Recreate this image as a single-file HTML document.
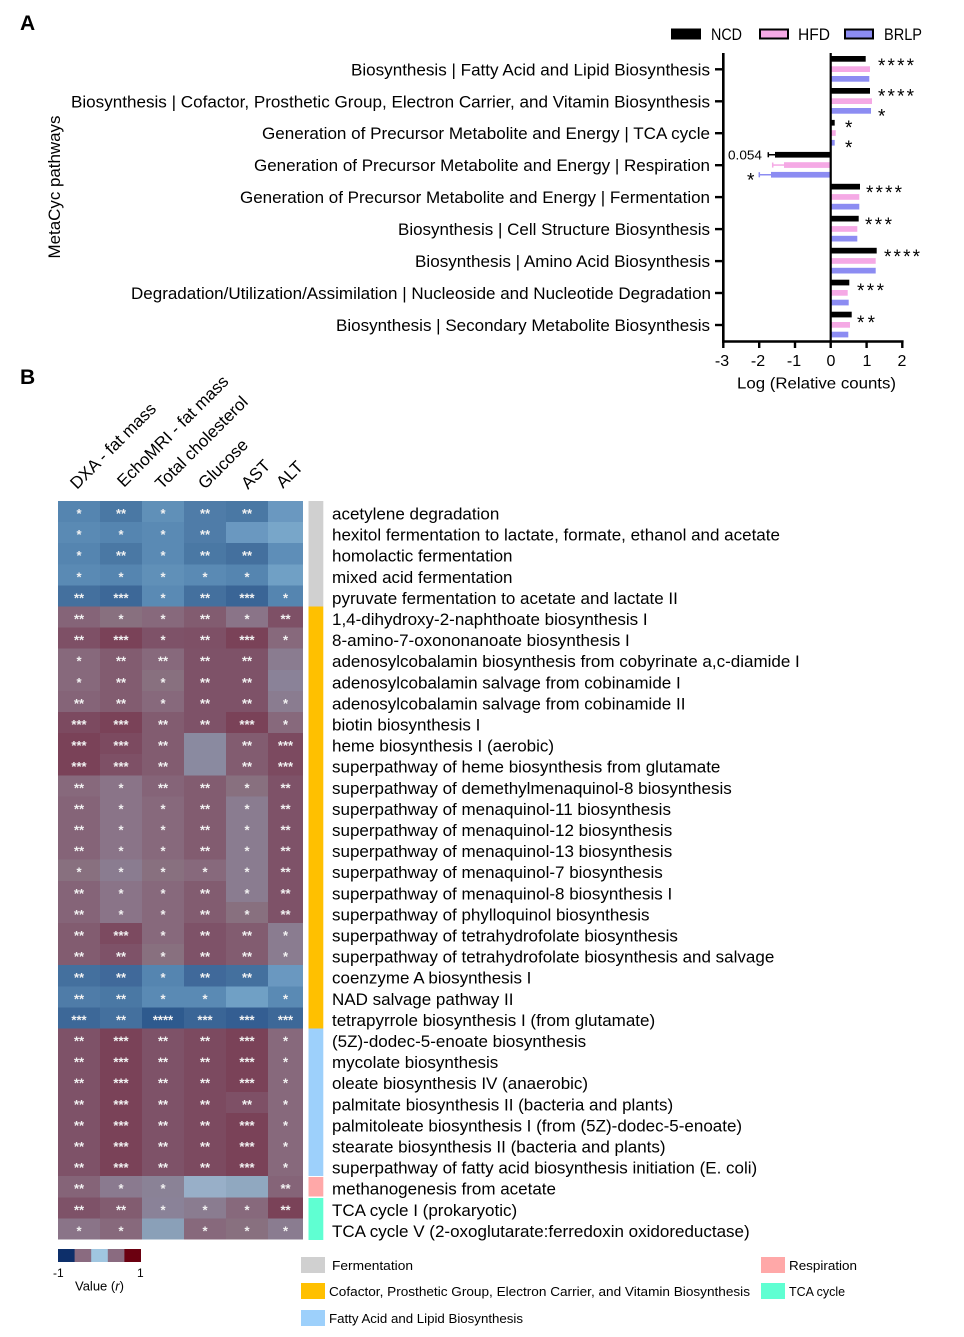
<!DOCTYPE html>
<html><head><meta charset="utf-8">
<style>
html,body{margin:0;padding:0;background:#fff;}
svg{display:block;}
text{font-family:"Liberation Sans",Arial,sans-serif;fill:#000;}
.s{font-size:13px;font-weight:bold;fill:#f2f2f2;text-anchor:middle;}
.l{font-size:17px;}
.h{font-size:17px;}
.al{font-size:17px;text-anchor:end;}
.st{font-size:19px;}
.tk{font-size:16px;text-anchor:middle;}
.lg{font-size:13px;}
</style></head>
<body>
<svg width="964" height="1337" viewBox="0 0 964 1337" xmlns="http://www.w3.org/2000/svg">
<rect x="0" y="0" width="964" height="1337" fill="#fff"/>

<!-- Panel A -->
<text x="20" y="30" style="font-size:21px;font-weight:bold">A</text>
<text x="60" y="187" class="l" text-anchor="middle" transform="rotate(-90 60 187)" textLength="143" lengthAdjust="spacingAndGlyphs">MetaCyc pathways</text>

<text class="al" x="710" y="75.3" textLength="359" lengthAdjust="spacingAndGlyphs">Biosynthesis | Fatty Acid and Lipid Biosynthesis</text>
<text class="al" x="710" y="107.3" textLength="639" lengthAdjust="spacingAndGlyphs">Biosynthesis | Cofactor, Prosthetic Group, Electron Carrier, and Vitamin Biosynthesis</text>
<text class="al" x="710" y="139.2" textLength="448" lengthAdjust="spacingAndGlyphs">Generation of Precursor Metabolite and Energy | TCA cycle</text>
<text class="al" x="710" y="171.2" textLength="456" lengthAdjust="spacingAndGlyphs">Generation of Precursor Metabolite and Energy | Respiration</text>
<text class="al" x="710" y="203.1" textLength="470" lengthAdjust="spacingAndGlyphs">Generation of Precursor Metabolite and Energy | Fermentation</text>
<text class="al" x="710" y="235.1" textLength="312" lengthAdjust="spacingAndGlyphs">Biosynthesis | Cell Structure Biosynthesis</text>
<text class="al" x="710" y="267.1" textLength="295" lengthAdjust="spacingAndGlyphs">Biosynthesis | Amino Acid Biosynthesis</text>
<text class="al" x="711" y="299" textLength="580" lengthAdjust="spacingAndGlyphs">Degradation/Utilization/Assimilation | Nucleoside and Nucleotide Degradation</text>
<text class="al" x="710" y="331" textLength="374" lengthAdjust="spacingAndGlyphs">Biosynthesis | Secondary Metabolite Biosynthesis</text>

<!-- legend -->
<rect x="672" y="29.5" width="28" height="9" fill="#000" stroke="#000" stroke-width="2"/>
<text x="711" y="40" class="l" textLength="31" lengthAdjust="spacingAndGlyphs">NCD</text>
<rect x="760" y="29.5" width="28" height="9" fill="#f5a9e5" stroke="#000" stroke-width="2"/>
<text x="798" y="40" class="l" textLength="32" lengthAdjust="spacingAndGlyphs">HFD</text>
<rect x="845" y="29.5" width="28" height="9" fill="#8c8cf2" stroke="#000" stroke-width="2"/>
<text x="884" y="40" class="l" textLength="38" lengthAdjust="spacingAndGlyphs">BRLP</text>

<!-- bars -->
<g>
<rect x="830.7" y="56" width="35" height="5.7" fill="#000"/>
<rect x="830.7" y="66.3" width="39.3" height="5.7" fill="#f5a9e5"/>
<rect x="830.7" y="76" width="38.6" height="5.7" fill="#8c8cf2"/>

<rect x="830.7" y="88" width="39.3" height="5.7" fill="#000"/>
<rect x="830.7" y="98.3" width="41.3" height="5.7" fill="#f5a9e5"/>
<rect x="830.7" y="108" width="40.3" height="5.7" fill="#8c8cf2"/>

<rect x="830.7" y="119.9" width="4" height="5.7" fill="#000"/>
<rect x="830.7" y="130.2" width="5" height="5.7" fill="#f5a9e5"/>
<rect x="830.7" y="139.9" width="4" height="5.7" fill="#8c8cf2"/>

<rect x="775" y="151.9" width="55.7" height="5.7" fill="#000"/>
<rect x="784" y="162.2" width="46.7" height="5.7" fill="#f5a9e5"/>
<rect x="771" y="171.9" width="59.7" height="5.7" fill="#8c8cf2"/>
<line x1="768.3" y1="154.75" x2="775" y2="154.75" stroke="#000" stroke-width="1.5"/>
<line x1="768.3" y1="152.2" x2="768.3" y2="157.3" stroke="#000" stroke-width="1.5"/>
<line x1="772.7" y1="165.05" x2="784" y2="165.05" stroke="#f5a9e5" stroke-width="1.5"/>
<line x1="772.7" y1="162.5" x2="772.7" y2="167.6" stroke="#f5a9e5" stroke-width="1.5"/>
<line x1="759.3" y1="174.75" x2="771" y2="174.75" stroke="#8c8cf2" stroke-width="1.5"/>
<line x1="759.3" y1="172.2" x2="759.3" y2="177.3" stroke="#8c8cf2" stroke-width="1.5"/>

<rect x="830.7" y="183.8" width="29.3" height="5.7" fill="#000"/>
<rect x="830.7" y="194.1" width="28.6" height="5.7" fill="#f5a9e5"/>
<rect x="830.7" y="203.8" width="28.6" height="5.7" fill="#8c8cf2"/>

<rect x="830.7" y="215.8" width="28" height="5.7" fill="#000"/>
<rect x="830.7" y="226.1" width="26.6" height="5.7" fill="#f5a9e5"/>
<rect x="830.7" y="235.8" width="26.6" height="5.7" fill="#8c8cf2"/>

<rect x="830.7" y="247.8" width="46" height="5.7" fill="#000"/>
<rect x="830.7" y="258.1" width="45" height="5.7" fill="#f5a9e5"/>
<rect x="830.7" y="267.8" width="45" height="5.7" fill="#8c8cf2"/>

<rect x="830.7" y="279.7" width="18.6" height="5.7" fill="#000"/>
<rect x="830.7" y="290" width="17" height="5.7" fill="#f5a9e5"/>
<rect x="830.7" y="299.7" width="18" height="5.7" fill="#8c8cf2"/>

<rect x="830.7" y="311.7" width="21" height="5.7" fill="#000"/>
<rect x="830.7" y="322" width="19.3" height="5.7" fill="#f5a9e5"/>
<rect x="830.7" y="331.7" width="17.6" height="5.7" fill="#8c8cf2"/>
</g>

<!-- significance -->
<text class="st" x="878" y="72" textLength="36" lengthAdjust="spacing">****</text>
<text class="st" x="878" y="102.5" textLength="36" lengthAdjust="spacing">****</text>
<text class="st" x="878" y="122.5">*</text>
<text class="st" x="845" y="134">*</text>
<text class="st" x="845" y="154">*</text>
<text x="728" y="159.5" style="font-size:13px" textLength="34" lengthAdjust="spacingAndGlyphs">0.054</text>
<text class="st" x="747" y="186.5">*</text>
<text class="st" x="866" y="199" textLength="36" lengthAdjust="spacing">****</text>
<text class="st" x="865" y="231" textLength="27" lengthAdjust="spacing">***</text>
<text class="st" x="884" y="263" textLength="36" lengthAdjust="spacing">****</text>
<text class="st" x="857" y="297" textLength="27" lengthAdjust="spacing">***</text>
<text class="st" x="857" y="329" textLength="18" lengthAdjust="spacing">**</text>

<!-- axes -->
<line x1="723.3" y1="53" x2="723.3" y2="342.7" stroke="#000" stroke-width="2.6"/>
<line x1="722" y1="341.5" x2="903.6" y2="341.5" stroke="#000" stroke-width="2.6"/>
<line x1="830.7" y1="53" x2="830.7" y2="341" stroke="#000" stroke-width="2.2"/>
<g stroke="#000" stroke-width="2.4">
<line x1="715" y1="69.3" x2="723" y2="69.3"/>
<line x1="715" y1="101.3" x2="723" y2="101.3"/>
<line x1="715" y1="133.2" x2="723" y2="133.2"/>
<line x1="715" y1="165.2" x2="723" y2="165.2"/>
<line x1="715" y1="197.1" x2="723" y2="197.1"/>
<line x1="715" y1="229.1" x2="723" y2="229.1"/>
<line x1="715" y1="261.1" x2="723" y2="261.1"/>
<line x1="715" y1="293" x2="723" y2="293"/>
<line x1="715" y1="325" x2="723" y2="325"/>
<line x1="723.3" y1="341" x2="723.3" y2="348"/>
<line x1="759.2" y1="341" x2="759.2" y2="348"/>
<line x1="795" y1="341" x2="795" y2="348"/>
<line x1="830.7" y1="341" x2="830.7" y2="348"/>
<line x1="866.6" y1="341" x2="866.6" y2="348"/>
<line x1="902.3" y1="341" x2="902.3" y2="348"/>
</g>
<text class="tk" x="722" y="366">-3</text>
<text class="tk" x="758" y="366">-2</text>
<text class="tk" x="794" y="366">-1</text>
<text class="tk" x="831" y="366">0</text>
<text class="tk" x="867" y="366">1</text>
<text class="tk" x="902" y="366">2</text>
<text x="737" y="388.5" class="tk" style="text-anchor:start" textLength="159" lengthAdjust="spacingAndGlyphs">Log (Relative counts)</text>

<!-- Panel B -->
<text x="20" y="384" style="font-size:21px;font-weight:bold">B</text>

<text class="h" x="77" y="490" transform="rotate(-45 77 490)">DXA - fat mass</text>
<text class="h" x="124" y="488" transform="rotate(-45 124 488)">EchoMRI - fat mass</text>
<text class="h" x="162" y="490" transform="rotate(-45 162 490)">Total cholesterol</text>
<text class="h" x="205" y="490" transform="rotate(-45 205 490)">Glucose</text>
<text class="h" x="248" y="490" transform="rotate(-45 248 490)">AST</text>
<text class="h" x="283" y="489" transform="rotate(-45 283 489)">ALT</text>

<!-- category bar -->
<rect x="308.5" y="501" width="14.8" height="105.5" fill="#d0d0d0"/>
<rect x="308.5" y="606.5" width="14.8" height="422" fill="#ffc000"/>
<rect x="308.5" y="1028.5" width="14.8" height="147.5" fill="#9dd0fb"/>
<rect x="308.5" y="1177" width="14.8" height="19.5" fill="#ffa8a8"/>
<rect x="308.5" y="1198" width="14.8" height="42" fill="#5fffd2"/>

<g shape-rendering="crispEdges">
<g transform="translate(0,501)">
<rect x="58" width="42.5" height="21.6" fill="#5585b0"/><rect x="100" width="42.5" height="21.6" fill="#4a78a4"/><rect x="142" width="42.5" height="21.6" fill="#6090b8"/><rect x="184" width="42.5" height="21.6" fill="#4f7ca8"/><rect x="226" width="42.5" height="21.6" fill="#4a78a4"/><rect x="268" width="35" height="21.6" fill="#6a98c0"/>
</g>
<g transform="translate(0,522.1)">
<rect x="58" width="42.5" height="21.6" fill="#5a8ab4"/><rect x="100" width="42.5" height="21.6" fill="#5585b0"/><rect x="142" width="42.5" height="21.6" fill="#5a8ab4"/><rect x="184" width="42.5" height="21.6" fill="#4f7ca8"/><rect x="226" width="42.5" height="21.6" fill="#6a98c0"/><rect x="268" width="35" height="21.6" fill="#78a6c9"/>
</g>
<g transform="translate(0,543.2)">
<rect x="58" width="42.5" height="21.6" fill="#5585b0"/><rect x="100" width="42.5" height="21.6" fill="#4a78a4"/><rect x="142" width="42.5" height="21.6" fill="#5a8ab4"/><rect x="184" width="42.5" height="21.6" fill="#4a78a4"/><rect x="226" width="42.5" height="21.6" fill="#44709e"/><rect x="268" width="35" height="21.6" fill="#5e8eb8"/>
</g>
<g transform="translate(0,564.3)">
<rect x="58" width="42.5" height="21.6" fill="#5a8ab4"/><rect x="100" width="42.5" height="21.6" fill="#5585b0"/><rect x="142" width="42.5" height="21.6" fill="#6090b8"/><rect x="184" width="42.5" height="21.6" fill="#5a8ab4"/><rect x="226" width="42.5" height="21.6" fill="#5585b0"/><rect x="268" width="35" height="21.6" fill="#70a0c5"/>
</g>
<g transform="translate(0,585.4)">
<rect x="58" width="42.5" height="21.6" fill="#44709e"/><rect x="100" width="42.5" height="21.6" fill="#3d6898"/><rect x="142" width="42.5" height="21.6" fill="#5a8ab4"/><rect x="184" width="42.5" height="21.6" fill="#44709e"/><rect x="226" width="42.5" height="21.6" fill="#3a6596"/><rect x="268" width="35" height="21.6" fill="#5585b0"/>
</g>
<g transform="translate(0,606.5)">
<rect x="58" width="42.5" height="21.6" fill="#856478"/><rect x="100" width="42.5" height="21.6" fill="#88707f"/><rect x="142" width="42.5" height="21.6" fill="#87697c"/><rect x="184" width="42.5" height="21.6" fill="#825c70"/><rect x="226" width="42.5" height="21.6" fill="#8a7488"/><rect x="268" width="35" height="21.6" fill="#7e5066"/>
</g>
<g transform="translate(0,627.6)">
<rect x="58" width="42.5" height="21.6" fill="#7e5066"/><rect x="100" width="42.5" height="21.6" fill="#7a4258"/><rect x="142" width="42.5" height="21.6" fill="#7e5268"/><rect x="184" width="42.5" height="21.6" fill="#7e5066"/><rect x="226" width="42.5" height="21.6" fill="#7a4258"/><rect x="268" width="35" height="21.6" fill="#87697c"/>
</g>
<g transform="translate(0,648.7)">
<rect x="58" width="42.5" height="21.6" fill="#87697c"/><rect x="100" width="42.5" height="21.6" fill="#825c70"/><rect x="142" width="42.5" height="21.6" fill="#87697c"/><rect x="184" width="42.5" height="21.6" fill="#7e5268"/><rect x="226" width="42.5" height="21.6" fill="#7e5268"/><rect x="268" width="35" height="21.6" fill="#8a7c90"/>
</g>
<g transform="translate(0,669.8)">
<rect x="58" width="42.5" height="21.6" fill="#87697c"/><rect x="100" width="42.5" height="21.6" fill="#825c70"/><rect x="142" width="42.5" height="21.6" fill="#88707f"/><rect x="184" width="42.5" height="21.6" fill="#7e5268"/><rect x="226" width="42.5" height="21.6" fill="#7e5268"/><rect x="268" width="35" height="21.6" fill="#8a8298"/>
</g>
<g transform="translate(0,690.9)">
<rect x="58" width="42.5" height="21.6" fill="#856478"/><rect x="100" width="42.5" height="21.6" fill="#825c70"/><rect x="142" width="42.5" height="21.6" fill="#87697c"/><rect x="184" width="42.5" height="21.6" fill="#7e5268"/><rect x="226" width="42.5" height="21.6" fill="#7e5268"/><rect x="268" width="35" height="21.6" fill="#8a7c90"/>
</g>
<g transform="translate(0,712)">
<rect x="58" width="42.5" height="21.6" fill="#7c4a60"/><rect x="100" width="42.5" height="21.6" fill="#7a4258"/><rect x="142" width="42.5" height="21.6" fill="#825c70"/><rect x="184" width="42.5" height="21.6" fill="#7e5268"/><rect x="226" width="42.5" height="21.6" fill="#7a4258"/><rect x="268" width="35" height="21.6" fill="#87697c"/>
</g>
<g transform="translate(0,733.1)">
<rect x="58" width="42.5" height="21.6" fill="#7a4258"/><rect x="100" width="42.5" height="21.6" fill="#7c4a60"/><rect x="142" width="42.5" height="21.6" fill="#825c70"/><rect x="184" width="42.5" height="21.6" fill="#8a8aa0"/><rect x="226" width="42.5" height="21.6" fill="#825c70"/><rect x="268" width="35" height="21.6" fill="#7c4a60"/>
</g>
<g transform="translate(0,754.2)">
<rect x="58" width="42.5" height="21.6" fill="#7a4258"/><rect x="100" width="42.5" height="21.6" fill="#7e5066"/><rect x="142" width="42.5" height="21.6" fill="#825c70"/><rect x="184" width="42.5" height="21.6" fill="#8a8aa0"/><rect x="226" width="42.5" height="21.6" fill="#825c70"/><rect x="268" width="35" height="21.6" fill="#7c4a60"/>
</g>
<g transform="translate(0,775.3)">
<rect x="58" width="42.5" height="21.6" fill="#87697c"/><rect x="100" width="42.5" height="21.6" fill="#8a7488"/><rect x="142" width="42.5" height="21.6" fill="#856478"/><rect x="184" width="42.5" height="21.6" fill="#825c70"/><rect x="226" width="42.5" height="21.6" fill="#88707f"/><rect x="268" width="35" height="21.6" fill="#7e5268"/>
</g>
<g transform="translate(0,796.4)">
<rect x="58" width="42.5" height="21.6" fill="#856478"/><rect x="100" width="42.5" height="21.6" fill="#8a7488"/><rect x="142" width="42.5" height="21.6" fill="#87697c"/><rect x="184" width="42.5" height="21.6" fill="#825c70"/><rect x="226" width="42.5" height="21.6" fill="#8a7c90"/><rect x="268" width="35" height="21.6" fill="#7e5268"/>
</g>
<g transform="translate(0,817.5)">
<rect x="58" width="42.5" height="21.6" fill="#856478"/><rect x="100" width="42.5" height="21.6" fill="#8a7488"/><rect x="142" width="42.5" height="21.6" fill="#87697c"/><rect x="184" width="42.5" height="21.6" fill="#825c70"/><rect x="226" width="42.5" height="21.6" fill="#8a7c90"/><rect x="268" width="35" height="21.6" fill="#7e5268"/>
</g>
<g transform="translate(0,838.6)">
<rect x="58" width="42.5" height="21.6" fill="#856478"/><rect x="100" width="42.5" height="21.6" fill="#8a7488"/><rect x="142" width="42.5" height="21.6" fill="#87697c"/><rect x="184" width="42.5" height="21.6" fill="#825c70"/><rect x="226" width="42.5" height="21.6" fill="#8a7c90"/><rect x="268" width="35" height="21.6" fill="#7e5268"/>
</g>
<g transform="translate(0,859.7)">
<rect x="58" width="42.5" height="21.6" fill="#88707f"/><rect x="100" width="42.5" height="21.6" fill="#8a7c90"/><rect x="142" width="42.5" height="21.6" fill="#88707f"/><rect x="184" width="42.5" height="21.6" fill="#87697c"/><rect x="226" width="42.5" height="21.6" fill="#8a7c90"/><rect x="268" width="35" height="21.6" fill="#7e5268"/>
</g>
<g transform="translate(0,880.8)">
<rect x="58" width="42.5" height="21.6" fill="#856478"/><rect x="100" width="42.5" height="21.6" fill="#8a7488"/><rect x="142" width="42.5" height="21.6" fill="#87697c"/><rect x="184" width="42.5" height="21.6" fill="#825c70"/><rect x="226" width="42.5" height="21.6" fill="#8a7c90"/><rect x="268" width="35" height="21.6" fill="#7e5268"/>
</g>
<g transform="translate(0,901.9)">
<rect x="58" width="42.5" height="21.6" fill="#856478"/><rect x="100" width="42.5" height="21.6" fill="#8a7488"/><rect x="142" width="42.5" height="21.6" fill="#87697c"/><rect x="184" width="42.5" height="21.6" fill="#825c70"/><rect x="226" width="42.5" height="21.6" fill="#88707f"/><rect x="268" width="35" height="21.6" fill="#7e5268"/>
</g>
<g transform="translate(0,923)">
<rect x="58" width="42.5" height="21.6" fill="#825c70"/><rect x="100" width="42.5" height="21.6" fill="#7c4a60"/><rect x="142" width="42.5" height="21.6" fill="#87697c"/><rect x="184" width="42.5" height="21.6" fill="#7e5268"/><rect x="226" width="42.5" height="21.6" fill="#825c70"/><rect x="268" width="35" height="21.6" fill="#8a7c90"/>
</g>
<g transform="translate(0,944.1)">
<rect x="58" width="42.5" height="21.6" fill="#825c70"/><rect x="100" width="42.5" height="21.6" fill="#7e5268"/><rect x="142" width="42.5" height="21.6" fill="#88707f"/><rect x="184" width="42.5" height="21.6" fill="#7e5268"/><rect x="226" width="42.5" height="21.6" fill="#825c70"/><rect x="268" width="35" height="21.6" fill="#8a7c90"/>
</g>
<g transform="translate(0,965.2)">
<rect x="58" width="42.5" height="21.6" fill="#44709e"/><rect x="100" width="42.5" height="21.6" fill="#40699a"/><rect x="142" width="42.5" height="21.6" fill="#5585b0"/><rect x="184" width="42.5" height="21.6" fill="#40699a"/><rect x="226" width="42.5" height="21.6" fill="#44709e"/><rect x="268" width="35" height="21.6" fill="#6a98c0"/>
</g>
<g transform="translate(0,986.3)">
<rect x="58" width="42.5" height="21.6" fill="#4f7ca8"/><rect x="100" width="42.5" height="21.6" fill="#4a78a4"/><rect x="142" width="42.5" height="21.6" fill="#5a8ab4"/><rect x="184" width="42.5" height="21.6" fill="#5a8ab4"/><rect x="226" width="42.5" height="21.6" fill="#70a0c5"/><rect x="268" width="35" height="21.6" fill="#5a8ab4"/>
</g>
<g transform="translate(0,1007.4)">
<rect x="58" width="42.5" height="21.6" fill="#3d6898"/><rect x="100" width="42.5" height="21.6" fill="#44709e"/><rect x="142" width="42.5" height="21.6" fill="#2e5a8e"/><rect x="184" width="42.5" height="21.6" fill="#3a6596"/><rect x="226" width="42.5" height="21.6" fill="#345e92"/><rect x="268" width="35" height="21.6" fill="#3d6898"/>
</g>
<g transform="translate(0,1028.5)">
<rect x="58" width="42.5" height="21.6" fill="#7e5268"/><rect x="100" width="42.5" height="21.6" fill="#7a4258"/><rect x="142" width="42.5" height="21.6" fill="#7e5268"/><rect x="184" width="42.5" height="21.6" fill="#7c4a60"/><rect x="226" width="42.5" height="21.6" fill="#7a4258"/><rect x="268" width="35" height="21.6" fill="#87697c"/>
</g>
<g transform="translate(0,1049.6)">
<rect x="58" width="42.5" height="21.6" fill="#7e5268"/><rect x="100" width="42.5" height="21.6" fill="#7a4258"/><rect x="142" width="42.5" height="21.6" fill="#7e5268"/><rect x="184" width="42.5" height="21.6" fill="#7c4a60"/><rect x="226" width="42.5" height="21.6" fill="#7a4258"/><rect x="268" width="35" height="21.6" fill="#87697c"/>
</g>
<g transform="translate(0,1070.7)">
<rect x="58" width="42.5" height="21.6" fill="#7e5268"/><rect x="100" width="42.5" height="21.6" fill="#7a4258"/><rect x="142" width="42.5" height="21.6" fill="#7e5268"/><rect x="184" width="42.5" height="21.6" fill="#7c4a60"/><rect x="226" width="42.5" height="21.6" fill="#7a4258"/><rect x="268" width="35" height="21.6" fill="#87697c"/>
</g>
<g transform="translate(0,1091.8)">
<rect x="58" width="42.5" height="21.6" fill="#7e5268"/><rect x="100" width="42.5" height="21.6" fill="#7a4258"/><rect x="142" width="42.5" height="21.6" fill="#7e5268"/><rect x="184" width="42.5" height="21.6" fill="#7c4a60"/><rect x="226" width="42.5" height="21.6" fill="#7e5066"/><rect x="268" width="35" height="21.6" fill="#87697c"/>
</g>
<g transform="translate(0,1112.9)">
<rect x="58" width="42.5" height="21.6" fill="#7e5268"/><rect x="100" width="42.5" height="21.6" fill="#7a4258"/><rect x="142" width="42.5" height="21.6" fill="#7e5268"/><rect x="184" width="42.5" height="21.6" fill="#7c4a60"/><rect x="226" width="42.5" height="21.6" fill="#7a4258"/><rect x="268" width="35" height="21.6" fill="#87697c"/>
</g>
<g transform="translate(0,1134)">
<rect x="58" width="42.5" height="21.6" fill="#7e5268"/><rect x="100" width="42.5" height="21.6" fill="#7a4258"/><rect x="142" width="42.5" height="21.6" fill="#7e5268"/><rect x="184" width="42.5" height="21.6" fill="#7c4a60"/><rect x="226" width="42.5" height="21.6" fill="#7a4258"/><rect x="268" width="35" height="21.6" fill="#87697c"/>
</g>
<g transform="translate(0,1155.1)">
<rect x="58" width="42.5" height="21.6" fill="#7e5268"/><rect x="100" width="42.5" height="21.6" fill="#7a4258"/><rect x="142" width="42.5" height="21.6" fill="#7e5268"/><rect x="184" width="42.5" height="21.6" fill="#7c4a60"/><rect x="226" width="42.5" height="21.6" fill="#7a4258"/><rect x="268" width="35" height="21.6" fill="#87697c"/>
</g>
<g transform="translate(0,1176.2)">
<rect x="58" width="42.5" height="21.6" fill="#856478"/><rect x="100" width="42.5" height="21.6" fill="#8a7a8f"/><rect x="142" width="42.5" height="21.6" fill="#8a8296"/><rect x="184" width="42.5" height="21.6" fill="#98afc8"/><rect x="226" width="42.5" height="21.6" fill="#90a8c0"/><rect x="268" width="35" height="21.6" fill="#856478"/>
</g>
<g transform="translate(0,1197.3)">
<rect x="58" width="42.5" height="21.6" fill="#7e5268"/><rect x="100" width="42.5" height="21.6" fill="#825c70"/><rect x="142" width="42.5" height="21.6" fill="#8a8298"/><rect x="184" width="42.5" height="21.6" fill="#8a7c90"/><rect x="226" width="42.5" height="21.6" fill="#87697c"/><rect x="268" width="35" height="21.6" fill="#7a4258"/>
</g>
<g transform="translate(0,1218.4)">
<rect x="58" width="42.5" height="21.1" fill="#8a7488"/><rect x="100" width="42.5" height="21.1" fill="#87697c"/><rect x="142" width="42.5" height="21.1" fill="#8aa0b8"/><rect x="184" width="42.5" height="21.1" fill="#87697c"/><rect x="226" width="42.5" height="21.1" fill="#88707f"/><rect x="268" width="35" height="21.1" fill="#8a7c90"/>
</g>
</g>

<!-- heatmap stars -->
<g>
<g transform="translate(0,501)"><text class="s" x="79" y="17">*</text><text class="s" x="121" y="17">**</text><text class="s" x="163" y="17">*</text><text class="s" x="205" y="17">**</text><text class="s" x="247" y="17">**</text></g>
<g transform="translate(0,522.1)"><text class="s" x="79" y="17">*</text><text class="s" x="121" y="17">*</text><text class="s" x="163" y="17">*</text><text class="s" x="205" y="17">**</text></g>
<g transform="translate(0,543.2)"><text class="s" x="79" y="17">*</text><text class="s" x="121" y="17">**</text><text class="s" x="163" y="17">*</text><text class="s" x="205" y="17">**</text><text class="s" x="247" y="17">**</text></g>
<g transform="translate(0,564.3)"><text class="s" x="79" y="17">*</text><text class="s" x="121" y="17">*</text><text class="s" x="163" y="17">*</text><text class="s" x="205" y="17">*</text><text class="s" x="247" y="17">*</text></g>
<g transform="translate(0,585.4)"><text class="s" x="79" y="17">**</text><text class="s" x="121" y="17">***</text><text class="s" x="163" y="17">*</text><text class="s" x="205" y="17">**</text><text class="s" x="247" y="17">***</text><text class="s" x="285.5" y="17">*</text></g>
<g transform="translate(0,606.5)"><text class="s" x="79" y="17">**</text><text class="s" x="121" y="17">*</text><text class="s" x="163" y="17">*</text><text class="s" x="205" y="17">**</text><text class="s" x="247" y="17">*</text><text class="s" x="285.5" y="17">**</text></g>
<g transform="translate(0,627.6)"><text class="s" x="79" y="17">**</text><text class="s" x="121" y="17">***</text><text class="s" x="163" y="17">*</text><text class="s" x="205" y="17">**</text><text class="s" x="247" y="17">***</text><text class="s" x="285.5" y="17">*</text></g>
<g transform="translate(0,648.7)"><text class="s" x="79" y="17">*</text><text class="s" x="121" y="17">**</text><text class="s" x="163" y="17">**</text><text class="s" x="205" y="17">**</text><text class="s" x="247" y="17">**</text></g>
<g transform="translate(0,669.8)"><text class="s" x="79" y="17">*</text><text class="s" x="121" y="17">**</text><text class="s" x="163" y="17">*</text><text class="s" x="205" y="17">**</text><text class="s" x="247" y="17">**</text></g>
<g transform="translate(0,690.9)"><text class="s" x="79" y="17">**</text><text class="s" x="121" y="17">**</text><text class="s" x="163" y="17">*</text><text class="s" x="205" y="17">**</text><text class="s" x="247" y="17">**</text><text class="s" x="285.5" y="17">*</text></g>
<g transform="translate(0,712)"><text class="s" x="79" y="17">***</text><text class="s" x="121" y="17">***</text><text class="s" x="163" y="17">**</text><text class="s" x="205" y="17">**</text><text class="s" x="247" y="17">***</text><text class="s" x="285.5" y="17">*</text></g>
<g transform="translate(0,733.1)"><text class="s" x="79" y="17">***</text><text class="s" x="121" y="17">***</text><text class="s" x="163" y="17">**</text><text class="s" x="247" y="17">**</text><text class="s" x="285.5" y="17">***</text></g>
<g transform="translate(0,754.2)"><text class="s" x="79" y="17">***</text><text class="s" x="121" y="17">***</text><text class="s" x="163" y="17">**</text><text class="s" x="247" y="17">**</text><text class="s" x="285.5" y="17">***</text></g>
<g transform="translate(0,775.3)"><text class="s" x="79" y="17">**</text><text class="s" x="121" y="17">*</text><text class="s" x="163" y="17">**</text><text class="s" x="205" y="17">**</text><text class="s" x="247" y="17">*</text><text class="s" x="285.5" y="17">**</text></g>
<g transform="translate(0,796.4)"><text class="s" x="79" y="17">**</text><text class="s" x="121" y="17">*</text><text class="s" x="163" y="17">*</text><text class="s" x="205" y="17">**</text><text class="s" x="247" y="17">*</text><text class="s" x="285.5" y="17">**</text></g>
<g transform="translate(0,817.5)"><text class="s" x="79" y="17">**</text><text class="s" x="121" y="17">*</text><text class="s" x="163" y="17">*</text><text class="s" x="205" y="17">**</text><text class="s" x="247" y="17">*</text><text class="s" x="285.5" y="17">**</text></g>
<g transform="translate(0,838.6)"><text class="s" x="79" y="17">**</text><text class="s" x="121" y="17">*</text><text class="s" x="163" y="17">*</text><text class="s" x="205" y="17">**</text><text class="s" x="247" y="17">*</text><text class="s" x="285.5" y="17">**</text></g>
<g transform="translate(0,859.7)"><text class="s" x="79" y="17">*</text><text class="s" x="121" y="17">*</text><text class="s" x="163" y="17">*</text><text class="s" x="205" y="17">*</text><text class="s" x="247" y="17">*</text><text class="s" x="285.5" y="17">**</text></g>
<g transform="translate(0,880.8)"><text class="s" x="79" y="17">**</text><text class="s" x="121" y="17">*</text><text class="s" x="163" y="17">*</text><text class="s" x="205" y="17">**</text><text class="s" x="247" y="17">*</text><text class="s" x="285.5" y="17">**</text></g>
<g transform="translate(0,901.9)"><text class="s" x="79" y="17">**</text><text class="s" x="121" y="17">*</text><text class="s" x="163" y="17">*</text><text class="s" x="205" y="17">**</text><text class="s" x="247" y="17">*</text><text class="s" x="285.5" y="17">**</text></g>
<g transform="translate(0,923)"><text class="s" x="79" y="17">**</text><text class="s" x="121" y="17">***</text><text class="s" x="163" y="17">*</text><text class="s" x="205" y="17">**</text><text class="s" x="247" y="17">**</text><text class="s" x="285.5" y="17">*</text></g>
<g transform="translate(0,944.1)"><text class="s" x="79" y="17">**</text><text class="s" x="121" y="17">**</text><text class="s" x="163" y="17">*</text><text class="s" x="205" y="17">**</text><text class="s" x="247" y="17">**</text><text class="s" x="285.5" y="17">*</text></g>
<g transform="translate(0,965.2)"><text class="s" x="79" y="17">**</text><text class="s" x="121" y="17">**</text><text class="s" x="163" y="17">*</text><text class="s" x="205" y="17">**</text><text class="s" x="247" y="17">**</text></g>
<g transform="translate(0,986.3)"><text class="s" x="79" y="17">**</text><text class="s" x="121" y="17">**</text><text class="s" x="163" y="17">*</text><text class="s" x="205" y="17">*</text><text class="s" x="285.5" y="17">*</text></g>
<g transform="translate(0,1007.4)"><text class="s" x="79" y="17">***</text><text class="s" x="121" y="17">**</text><text class="s" x="163" y="17">****</text><text class="s" x="205" y="17">***</text><text class="s" x="247" y="17">***</text><text class="s" x="285.5" y="17">***</text></g>
<g transform="translate(0,1028.5)"><text class="s" x="79" y="17">**</text><text class="s" x="121" y="17">***</text><text class="s" x="163" y="17">**</text><text class="s" x="205" y="17">**</text><text class="s" x="247" y="17">***</text><text class="s" x="285.5" y="17">*</text></g>
<g transform="translate(0,1049.6)"><text class="s" x="79" y="17">**</text><text class="s" x="121" y="17">***</text><text class="s" x="163" y="17">**</text><text class="s" x="205" y="17">**</text><text class="s" x="247" y="17">***</text><text class="s" x="285.5" y="17">*</text></g>
<g transform="translate(0,1070.7)"><text class="s" x="79" y="17">**</text><text class="s" x="121" y="17">***</text><text class="s" x="163" y="17">**</text><text class="s" x="205" y="17">**</text><text class="s" x="247" y="17">***</text><text class="s" x="285.5" y="17">*</text></g>
<g transform="translate(0,1091.8)"><text class="s" x="79" y="17">**</text><text class="s" x="121" y="17">***</text><text class="s" x="163" y="17">**</text><text class="s" x="205" y="17">**</text><text class="s" x="247" y="17">**</text><text class="s" x="285.5" y="17">*</text></g>
<g transform="translate(0,1112.9)"><text class="s" x="79" y="17">**</text><text class="s" x="121" y="17">***</text><text class="s" x="163" y="17">**</text><text class="s" x="205" y="17">**</text><text class="s" x="247" y="17">***</text><text class="s" x="285.5" y="17">*</text></g>
<g transform="translate(0,1134)"><text class="s" x="79" y="17">**</text><text class="s" x="121" y="17">***</text><text class="s" x="163" y="17">**</text><text class="s" x="205" y="17">**</text><text class="s" x="247" y="17">***</text><text class="s" x="285.5" y="17">*</text></g>
<g transform="translate(0,1155.1)"><text class="s" x="79" y="17">**</text><text class="s" x="121" y="17">***</text><text class="s" x="163" y="17">**</text><text class="s" x="205" y="17">**</text><text class="s" x="247" y="17">***</text><text class="s" x="285.5" y="17">*</text></g>
<g transform="translate(0,1176.2)"><text class="s" x="79" y="17">**</text><text class="s" x="121" y="17">*</text><text class="s" x="163" y="17">*</text><text class="s" x="285.5" y="17">**</text></g>
<g transform="translate(0,1197.3)"><text class="s" x="79" y="17">**</text><text class="s" x="121" y="17">**</text><text class="s" x="163" y="17">*</text><text class="s" x="205" y="17">*</text><text class="s" x="247" y="17">*</text><text class="s" x="285.5" y="17">**</text></g>
<g transform="translate(0,1218.4)"><text class="s" x="79" y="17">*</text><text class="s" x="121" y="17">*</text><text class="s" x="205" y="17">*</text><text class="s" x="247" y="17">*</text><text class="s" x="285.5" y="17">*</text></g>
</g>

<!-- row labels -->
<g>
<text class="l" x="332" y="519.5">acetylene degradation</text>
<text class="l" x="332" y="540.6">hexitol fermentation to lactate, formate, ethanol and acetate</text>
<text class="l" x="332" y="561.7">homolactic fermentation</text>
<text class="l" x="332" y="582.8">mixed acid fermentation</text>
<text class="l" x="332" y="603.9">pyruvate fermentation to acetate and lactate II</text>
<text class="l" x="332" y="625">1,4-dihydroxy-2-naphthoate biosynthesis I</text>
<text class="l" x="332" y="646.1">8-amino-7-oxononanoate biosynthesis I</text>
<text class="l" x="332" y="667.2">adenosylcobalamin biosynthesis from cobyrinate a,c-diamide I</text>
<text class="l" x="332" y="688.3">adenosylcobalamin salvage from cobinamide I</text>
<text class="l" x="332" y="709.4">adenosylcobalamin salvage from cobinamide II</text>
<text class="l" x="332" y="730.5">biotin biosynthesis I</text>
<text class="l" x="332" y="751.6">heme biosynthesis I (aerobic)</text>
<text class="l" x="332" y="772.7">superpathway of heme biosynthesis from glutamate</text>
<text class="l" x="332" y="793.8">superpathway of demethylmenaquinol-8 biosynthesis</text>
<text class="l" x="332" y="814.9">superpathway of menaquinol-11 biosynthesis</text>
<text class="l" x="332" y="836">superpathway of menaquinol-12 biosynthesis</text>
<text class="l" x="332" y="857.1">superpathway of menaquinol-13 biosynthesis</text>
<text class="l" x="332" y="878.2">superpathway of menaquinol-7 biosynthesis</text>
<text class="l" x="332" y="899.3">superpathway of menaquinol-8 biosynthesis I</text>
<text class="l" x="332" y="920.4">superpathway of phylloquinol biosynthesis</text>
<text class="l" x="332" y="941.5">superpathway of tetrahydrofolate biosynthesis</text>
<text class="l" x="332" y="962.6">superpathway of tetrahydrofolate biosynthesis and salvage</text>
<text class="l" x="332" y="983.7">coenzyme A biosynthesis I</text>
<text class="l" x="332" y="1004.8">NAD salvage pathway II</text>
<text class="l" x="332" y="1025.9">tetrapyrrole biosynthesis I (from glutamate)</text>
<text class="l" x="332" y="1047">(5Z)-dodec-5-enoate biosynthesis</text>
<text class="l" x="332" y="1068.1">mycolate biosynthesis</text>
<text class="l" x="332" y="1089.2">oleate biosynthesis IV (anaerobic)</text>
<text class="l" x="332" y="1110.3">palmitate biosynthesis II (bacteria and plants)</text>
<text class="l" x="332" y="1131.4">palmitoleate biosynthesis I (from (5Z)-dodec-5-enoate)</text>
<text class="l" x="332" y="1152.5">stearate biosynthesis II (bacteria and plants)</text>
<text class="l" x="332" y="1173.6">superpathway of fatty acid biosynthesis initiation (E. coli)</text>
<text class="l" x="332" y="1194.7">methanogenesis from acetate</text>
<text class="l" x="332" y="1215.8">TCA cycle I (prokaryotic)</text>
<text class="l" x="332" y="1236.9">TCA cycle V (2-oxoglutarate:ferredoxin oxidoreductase)</text>
</g>

<!-- color scale -->
<rect x="58" y="1249" width="17" height="13" fill="#0d2f6a"/>
<rect x="74.6" y="1249" width="17" height="13" fill="#8a6b80"/>
<rect x="91.2" y="1249" width="17" height="13" fill="#a0c6e0"/>
<rect x="107.8" y="1249" width="17" height="13" fill="#8a6b80"/>
<rect x="124.4" y="1249" width="16.6" height="13" fill="#6b0010"/>
<text x="53" y="1277" style="font-size:12px">-1</text>
<text x="137" y="1277" style="font-size:12px">1</text>
<text x="75" y="1290.5" style="font-size:13px">Value (<tspan font-style="italic">r</tspan>)</text>

<!-- category legend -->
<rect x="301" y="1257" width="24" height="16" fill="#d0d0d0"/>
<text class="lg" x="332" y="1270" textLength="81" lengthAdjust="spacingAndGlyphs">Fermentation</text>
<rect x="301" y="1283" width="24" height="16" fill="#ffc000"/>
<text class="lg" x="329" y="1296" textLength="421" lengthAdjust="spacingAndGlyphs">Cofactor, Prosthetic Group, Electron Carrier, and Vitamin Biosynthesis</text>
<rect x="301" y="1310" width="24" height="16" fill="#9dd0fb"/>
<text class="lg" x="329" y="1323" textLength="194" lengthAdjust="spacingAndGlyphs">Fatty Acid and Lipid Biosynthesis</text>
<rect x="761" y="1257" width="24" height="16" fill="#ffa8a8"/>
<text class="lg" x="789" y="1270" textLength="68" lengthAdjust="spacingAndGlyphs">Respiration</text>
<rect x="761" y="1283" width="24" height="16" fill="#5fffd2"/>
<text class="lg" x="789" y="1296" textLength="56" lengthAdjust="spacingAndGlyphs">TCA cycle</text>
</svg>
</body></html>
